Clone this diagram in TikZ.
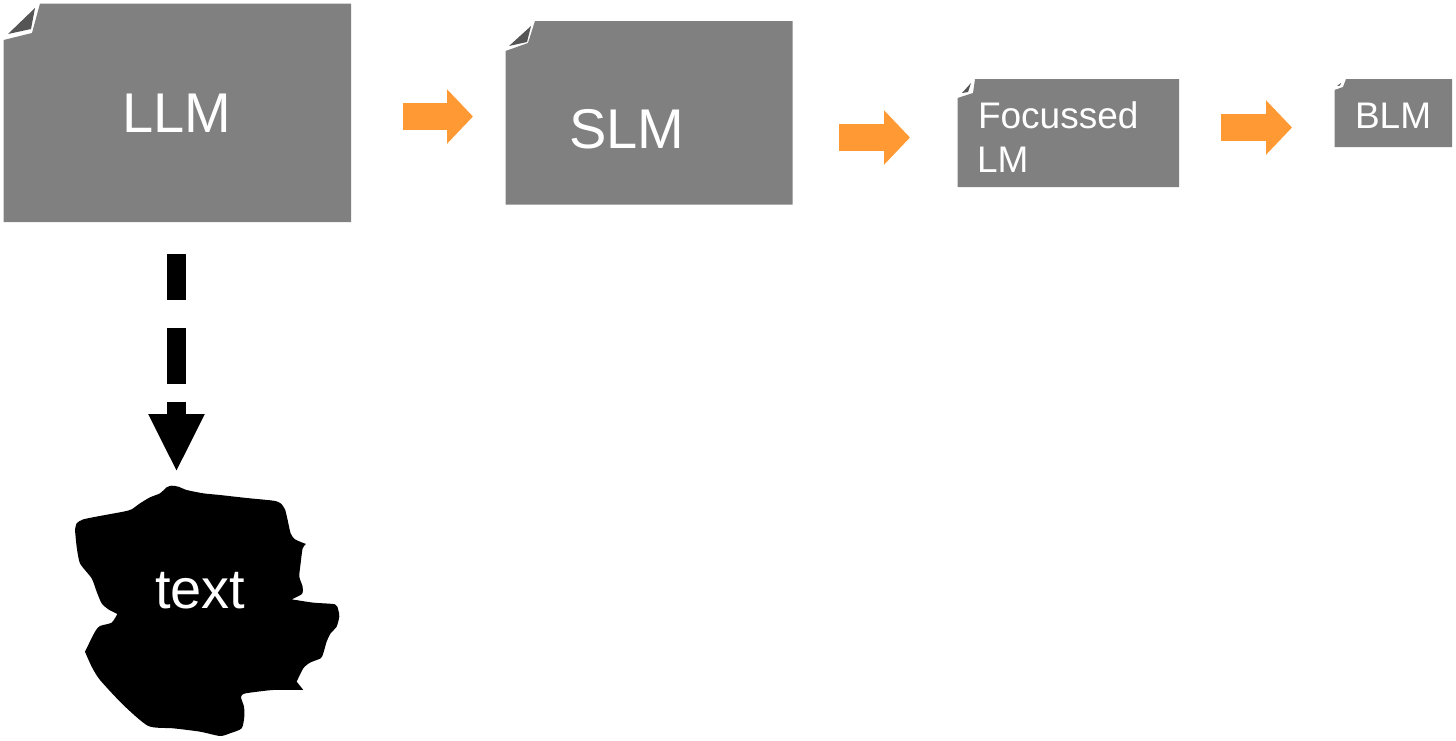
\documentclass[tikz,border=0pt]{standalone}
\usepackage{fontspec}
\setmainfont{Liberation Sans}
\usetikzlibrary{arrows.meta,calc}
\definecolor{docgray}{HTML}{808080}
\definecolor{folddark}{HTML}{555555}
\definecolor{flow}{HTML}{FF9933}
\tikzset{
  x=1pt,y=-1pt,
  docbody/.style={fill=docgray},
  foldtri/.style={fill=folddark},
  lab/.style={text=white,anchor=base west,inner sep=0pt,outer sep=0pt},
  biglab/.style={lab,font=\fontsize{56}{60}\selectfont},
  smalllab/.style={lab,font=\fontsize{37}{40}\selectfont},
  flowarrow/.style={draw=flow,line width=27.5pt,-{Triangle[length=26pt,width=53pt,fill=flow]}},
  dasharrow/.style={draw=black,line width=19pt,dash pattern=on 46pt off 28pt on 56pt off 18pt on 20pt,-{Triangle[length=58pt,width=52pt,fill=black]}}
}
\begin{document}
\begin{tikzpicture}
\useasboundingbox (0,0) rectangle (1456,740);
% documents
\fill[docbody] (40,3.5) -- (351,3.5) -- (351,222) -- (3.5,222) -- (3.5,40) -- (32,33) -- cycle;
\fill[foldtri] (35,8) -- (8,34) -- (31,29) -- cycle;
\fill[docbody] (535,21) -- (792.5,21) -- (792.5,204.5) -- (505.5,204.5) -- (505.5,51) -- (528,43) -- cycle;
\fill[foldtri] (531,26) -- (509,46) -- (527,42) -- cycle;
\fill[docbody] (975,79) -- (1179,79) -- (1179,187) -- (957.5,187) -- (957.5,98) -- (973,93) -- cycle;
\fill[foldtri] (971,83) -- (962,93) -- (968,92) -- cycle;
\fill[docbody] (1346,79) -- (1452,79) -- (1452,147) -- (1334.5,147) -- (1334.5,90) -- (1343,87) -- cycle;
\fill[foldtri] (1341,83) -- (1337,86) -- (1340,85.5) -- cycle;
% labels
\node[biglab] (llm) at (122,132) {LLM};
\node[biglab] (slm) at (569,148) {SLM};
\node[smalllab] (foc) at (978,128) {Focussed};
\node[smalllab] (lm) at (977,172) {LM};
\node[smalllab] (blm) at (1355,128) {BLM};
% flow arrows
\coordinate (a1s) at (403,116.5); \coordinate (a1e) at (473,116.5);
\coordinate (a2s) at (839,137.5); \coordinate (a2e) at (910,137.5);
\coordinate (a3s) at (1221,127.5); \coordinate (a3e) at (1292,127.5);
\draw[flowarrow] (a1s) -- (a1e);
\draw[flowarrow] (a2s) -- (a2e);
\draw[flowarrow] (a3s) -- (a3e);
% dashed arrow
\coordinate (ds) at (176.5,254); \coordinate (de) at (176.5,472);
\draw[dasharrow] (ds) -- (de);
% blob
\begin{scope}[shift={(60,470)},x=0.3333pt,y=-0.3333pt]
\fill[black]
 plot[smooth,tension=0.4] coordinates {(45,180) (50,160) (70,148) (130,136) (190,125) (215,118) (240,100) (270,82) (300,70) (320,52) (335,47) (355,50) (380,60) (430,70) (480,75) (560,84) (640,92) (662,100) (675,118) (683,150) (692,190) (705,208) (738,222)}
 -- plot[smooth,tension=0.4] coordinates {(738,222) (728,235) (722,280) (718,320) (728,350) (726,372) (695,388)}
 -- plot[smooth,tension=0.4] coordinates {(695,388) (760,398) (825,403) (835,420) (838,440) (830,470) (812,490) (800,515) (790,550) (782,565) (750,578) (730,595) (710,635)}
 -- (730,660)
 -- plot[smooth,tension=0.4] coordinates {(730,660) (640,660) (570,668) (550,672) (543,682) (552,710) (553,740) (545,775) (510,790) (480,798) (420,785) (340,775) (265,768) (190,705) (120,630) (95,590) (75,545)}
 -- plot[smooth,tension=0.4] coordinates {(75,545) (105,485) (120,468) (155,458) (172,432)}
 -- plot[smooth,tension=0.4] coordinates {(172,432) (145,418) (125,400) (110,365) (95,325) (60,280) (50,230) (45,180)}
 -- cycle;
\end{scope}
\node[biglab] (txt) at (155,608) {text};
\end{tikzpicture}
\end{document}
